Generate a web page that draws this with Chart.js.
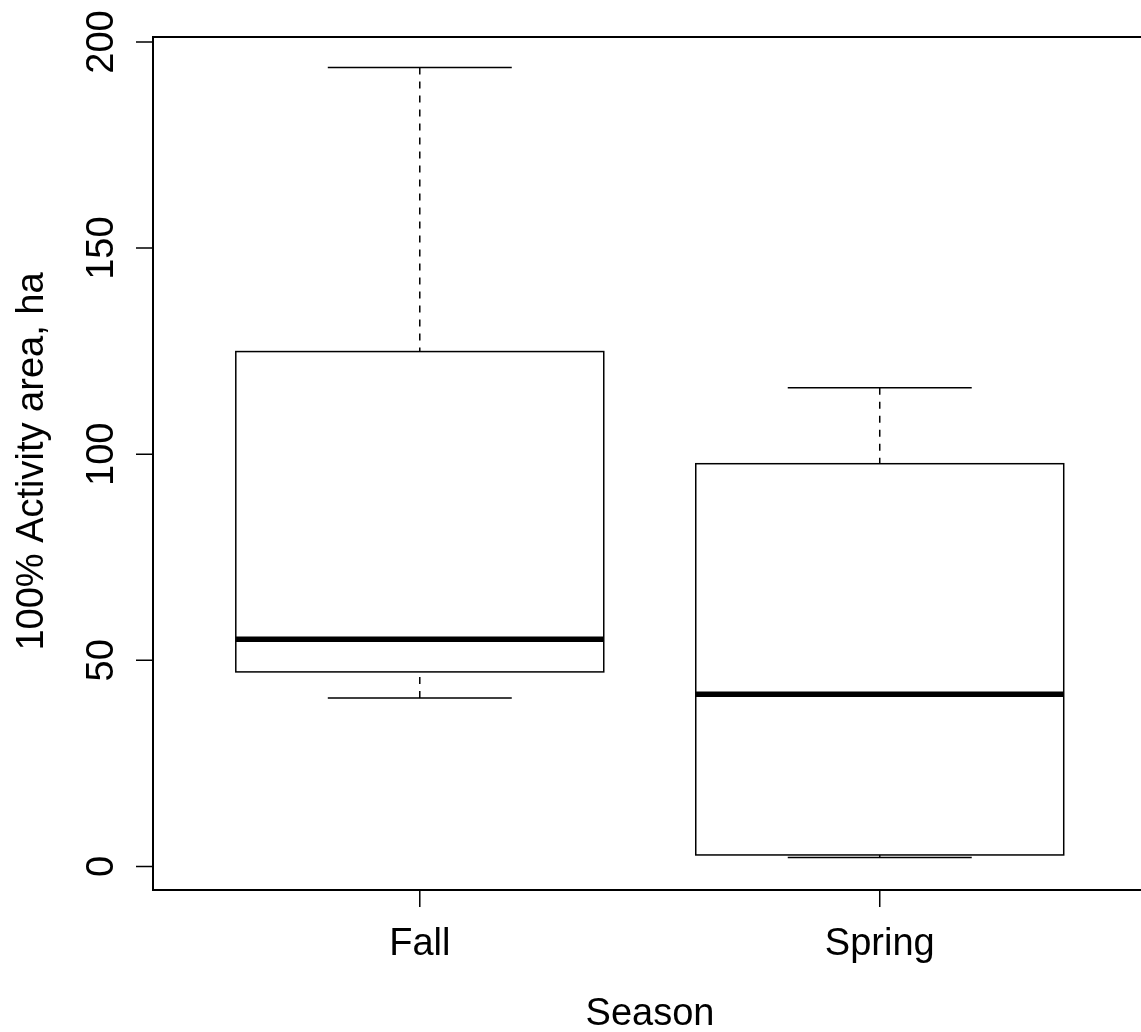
<!DOCTYPE html>
<html>
<head>
<meta charset="utf-8">
<script src="https://cdn.jsdelivr.net/npm/chart.js@4/dist/chart.umd.min.js"></script>
<style>
html,body{margin:0;padding:0;background:#fff;overflow:hidden;}
#wrap{width:1141px;height:1032px;position:relative;}
</style>
</head>
<body>
<div id="wrap"><canvas id="c"></canvas></div>
<script>
// ---- data ----
const categories = ['Fall', 'Spring'];
const whiskerLow = [40.9, 2.2];
const q1 = [47.2, 2.8];
const median = [55.1, 41.8];
const q3 = [124.9, 97.7];
const whiskerHigh = [193.8, 116.1];
const yTicks = [0, 50, 100, 150, 200];
const xTitle = 'Season';
const yTitle = '100% Activity area, ha';

const FONT = '38px "Liberation Sans", Arial, sans-serif';

const boxPlugin = {
  id: 'boxPlugin',
  afterDraw(chart) {
    const ctx = chart.ctx;
    const xs = chart.scales.x, ys = chart.scales.y;
    const a = chart.chartArea;
    ctx.save();
    ctx.strokeStyle = '#000';
    ctx.fillStyle = '#000';
    ctx.lineCap = 'butt';

    // boxes
    categories.forEach((c, i) => {
      const pos = i + 1;
      const cx = xs.getPixelForValue(pos);
      const bl = xs.getPixelForValue(pos - 0.4), br = xs.getPixelForValue(pos + 0.4);
      const cl = xs.getPixelForValue(pos - 0.2), cr = xs.getPixelForValue(pos + 0.2);
      const yLo = ys.getPixelForValue(whiskerLow[i]);
      const yQ1 = ys.getPixelForValue(q1[i]);
      const yMed = ys.getPixelForValue(median[i]);
      const yQ3 = ys.getPixelForValue(q3[i]);
      const yHi = ys.getPixelForValue(whiskerHigh[i]);

      // dashed whiskers
      ctx.lineWidth = 1.5;
      ctx.setLineDash([7, 7]);
      ctx.beginPath();
      ctx.moveTo(cx, yHi); ctx.lineTo(cx, yQ3);
      ctx.moveTo(cx, yLo); ctx.lineTo(cx, yQ1);
      ctx.stroke();
      ctx.setLineDash([]);

      // caps
      ctx.beginPath();
      ctx.moveTo(cl, yHi); ctx.lineTo(cr, yHi);
      ctx.moveTo(cl, yLo); ctx.lineTo(cr, yLo);
      ctx.stroke();

      // box
      ctx.strokeRect(bl, yQ3, br - bl, yQ1 - yQ3);

      // median
      ctx.lineWidth = 5.5;
      ctx.beginPath();
      ctx.moveTo(bl, yMed); ctx.lineTo(br, yMed);
      ctx.stroke();
    });

    // frame
    ctx.lineWidth = 2;
    ctx.strokeRect(a.left, a.top, a.right - a.left + 20, a.bottom - a.top);

    // y ticks
    ctx.lineWidth = 1.5;
    ctx.beginPath();
    yTicks.forEach(v => {
      const y = ys.getPixelForValue(v);
      ctx.moveTo(a.left - 17, y); ctx.lineTo(a.left, y);
    });
    // x ticks
    categories.forEach((c, i) => {
      const x = xs.getPixelForValue(i + 1);
      ctx.moveTo(x, a.bottom); ctx.lineTo(x, a.bottom + 17);
    });
    ctx.stroke();

    // text
    ctx.font = FONT;
    ctx.textAlign = 'center';
    ctx.textBaseline = 'alphabetic';
    yTicks.forEach(v => {
      const y = ys.getPixelForValue(v);
      ctx.save();
      ctx.translate(a.left - 40, y);
      ctx.rotate(-Math.PI / 2);
      ctx.fillText(String(v), 0, 0);
      ctx.restore();
    });
    categories.forEach((c, i) => {
      const x = xs.getPixelForValue(i + 1);
      ctx.fillText(c, x, a.bottom + 65);
    });
    // axis titles
    ctx.fillText(xTitle, (a.left + a.right + 6) / 2, a.bottom + 135);
    ctx.save();
    ctx.translate(43, (a.top + a.bottom) / 2 - 2);
    ctx.rotate(-Math.PI / 2);
    ctx.fillText(yTitle, 0, 0);
    ctx.restore();

    ctx.restore();
  }
};

new Chart(document.getElementById('c'), {
  type: 'scatter',
  data: { datasets: [{ data: [], showLine: false }] },
  options: {
    responsive: true,
    maintainAspectRatio: false,
    animation: false,
    layout: { padding: { left: 153, top: 37, right: 0, bottom: 142 } },
    plugins: { legend: { display: false }, tooltip: { enabled: false } },
    scales: {
      x: { type: 'linear', display: false, min: 0.42, max: 2.568 },
      y: { type: 'linear', display: false, min: -5.7, max: 201.2 }
    }
  },
  plugins: [boxPlugin]
});
</script>
</body>
</html>
